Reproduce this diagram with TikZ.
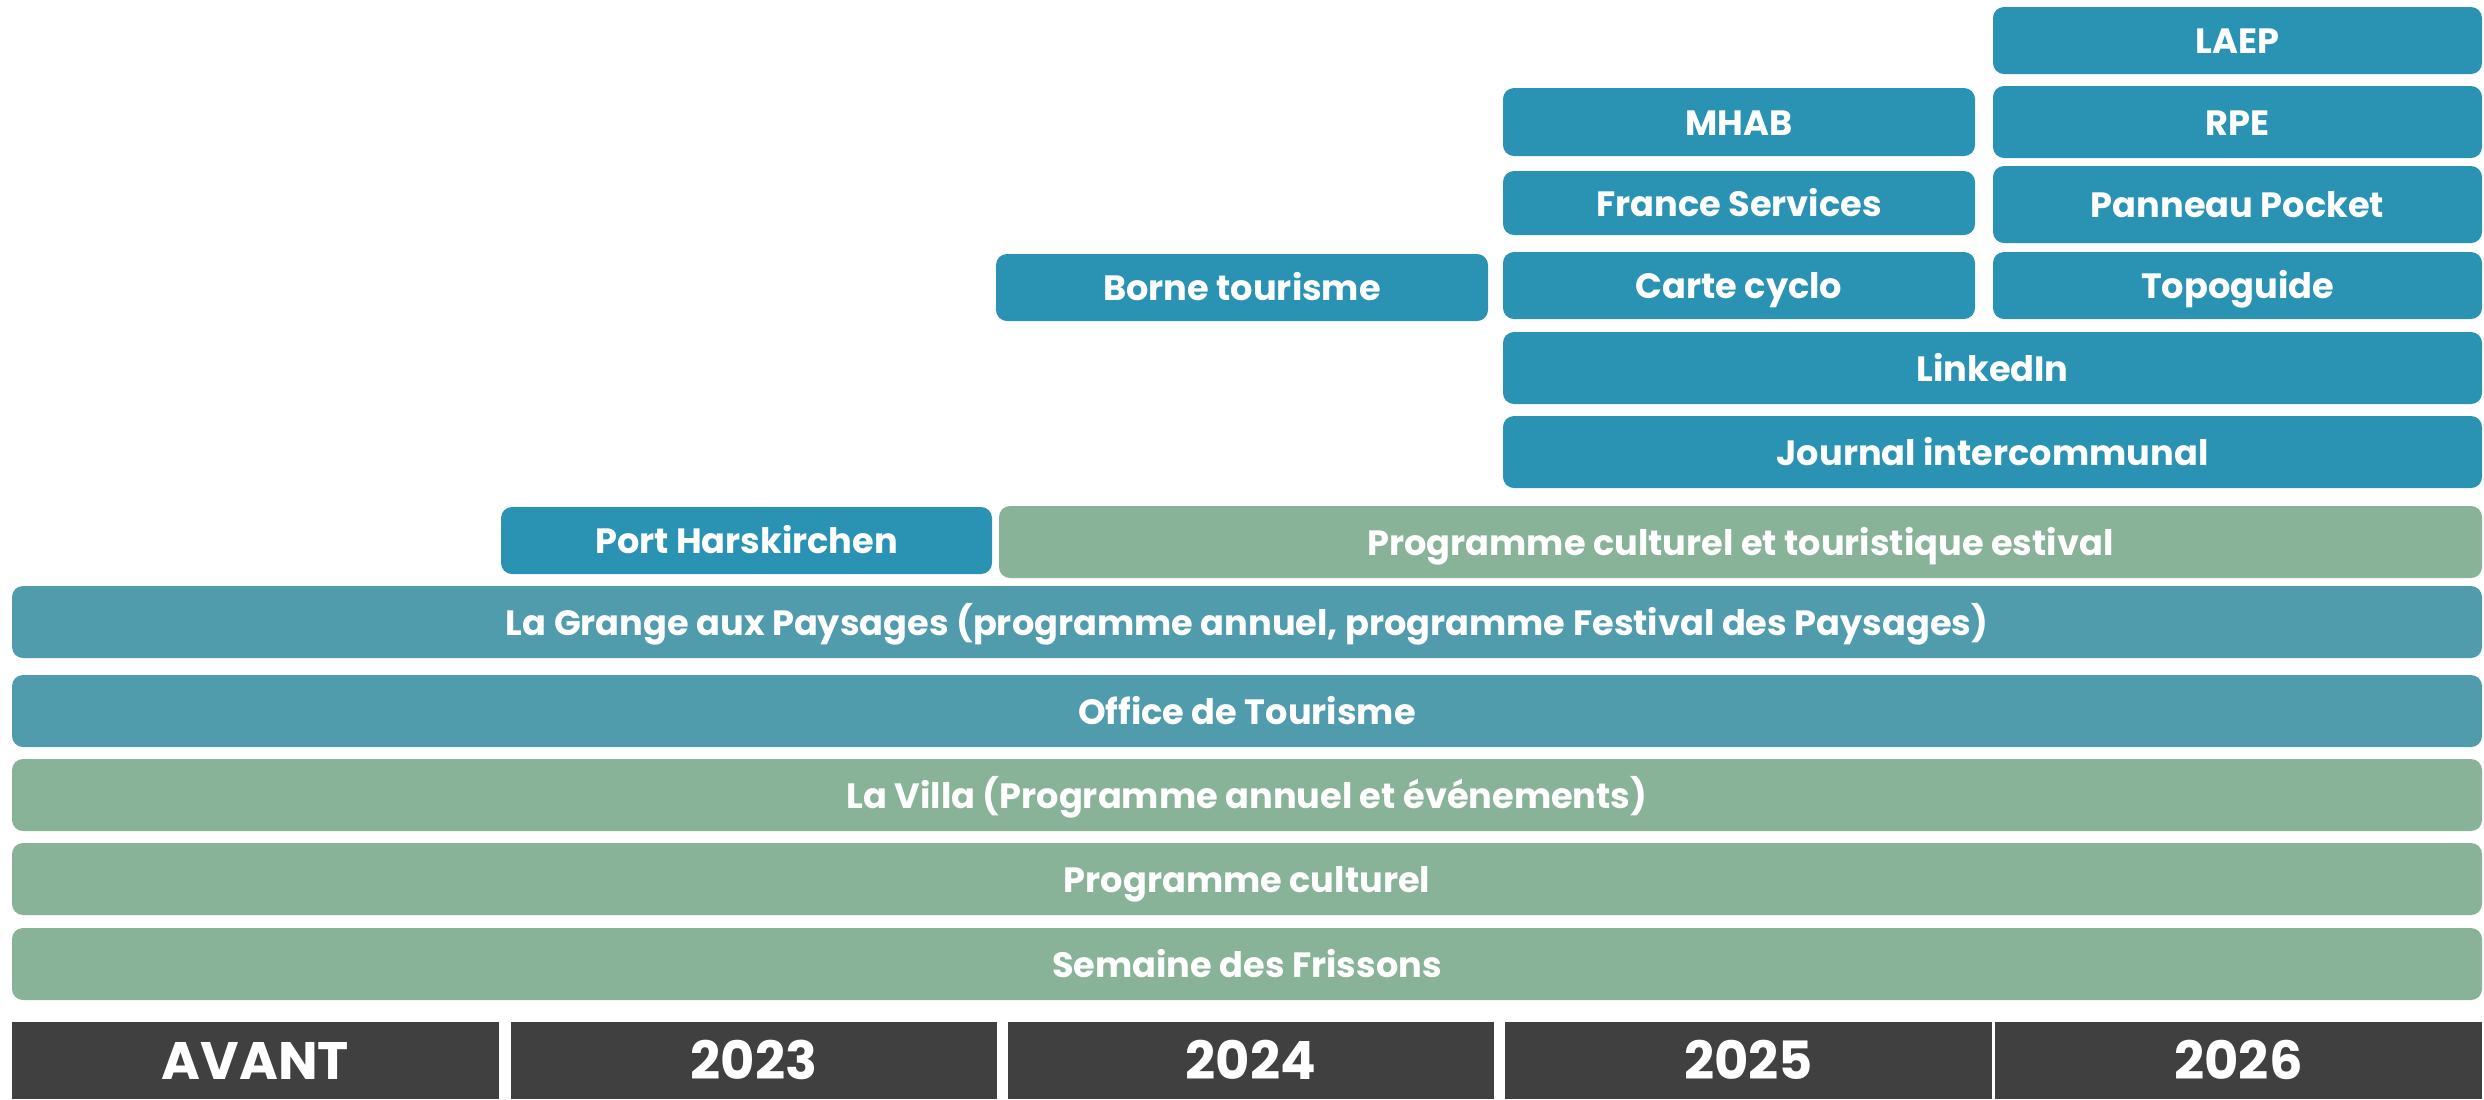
\documentclass[tikz,border=0pt]{standalone}
\usepackage{fontspec}
\setmainfont{Poppins}
\definecolor{cblue}{HTML}{2A93B4}
\definecolor{cteal}{HTML}{509CAD}
\definecolor{cgreen}{HTML}{89B398}
\definecolor{cdark}{HTML}{404040}
\newcommand\tbox[7]{\node[#6, minimum width={(#4-#2)*0.01cm}, minimum height={(#5-#3)*0.01cm}] (#1) at ({(#2+#4)/2},{(#3+#5)/2}) {#7};}
\tikzset{
  base/.style={inner sep=0pt, outer sep=0pt, rounded corners=0.11cm, text=white,
    font=\fontsize{10}{12}\selectfont\bfseries, text height=7.6pt, text depth=0pt},
  bluebox/.style={base, fill=cblue},
  tealbox/.style={base, fill=cteal},
  greenbox/.style={base, fill=cgreen},
  yearbox/.style={inner sep=0pt, outer sep=0pt, fill=cdark, text=white,
    font=\fontsize{15}{18}\selectfont\bfseries, text height=11pt, text depth=0pt},
}
\begin{document}
\begin{tikzpicture}[x=0.01cm,y=-0.01cm]
\useasboundingbox[fill=white] (0,0) rectangle (2484,1099);
% top blue boxes
\tbox{laep}{1993}{7}{2482}{74}{bluebox}{LAEP}
\tbox{mhab}{1503}{88}{1975}{156}{bluebox}{MHAB}
\tbox{rpe}{1993}{86}{2482}{158}{bluebox}{RPE}
\tbox{france}{1503}{171}{1975}{235}{bluebox}{France Services}
\tbox{panneau}{1993}{166}{2482}{243}{bluebox}{Panneau Pocket}
\tbox{borne}{996}{254}{1488}{321}{bluebox}{Borne tourisme}
\tbox{carte}{1503}{252}{1975}{319}{bluebox}{Carte cyclo}
\tbox{topo}{1993}{252}{2482}{319}{bluebox}{Topoguide}
\tbox{linkedin}{1503}{332}{2482}{404}{bluebox}{LinkedIn}
\tbox{journal}{1503}{416}{2482}{488}{bluebox}{Journal intercommunal}
\tbox{port}{501}{507}{992}{574}{bluebox}{Port Harskirchen}
\tbox{estival}{999}{506}{2482}{578}{greenbox}{Programme culturel et touristique estival}
% long bars
\tbox{grange}{12}{586}{2482}{658}{tealbox}{La Grange aux Paysages (programme annuel, programme Festival des Paysages)}
\tbox{office}{12}{675}{2482}{747}{tealbox}{Office de Tourisme}
\tbox{villa}{12}{759}{2482}{831}{greenbox}{La Villa (Programme annuel et événements)}
\tbox{culturel}{12}{843}{2482}{915}{greenbox}{Programme culturel}
\tbox{frissons}{12}{928}{2482}{1000}{greenbox}{Semaine des Frissons}
% years
\tbox{avant}{12}{1022}{499}{1099}{yearbox}{AVANT}
\tbox{y2023}{511}{1022}{997}{1099}{yearbox}{2023}
\tbox{y2024}{1008}{1022}{1494}{1099}{yearbox}{2024}
\tbox{y2025}{1505}{1022}{1992}{1099}{yearbox}{2025}
\tbox{y2026}{1995}{1022}{2482}{1099}{yearbox}{2026}
\end{tikzpicture}
\end{document}
